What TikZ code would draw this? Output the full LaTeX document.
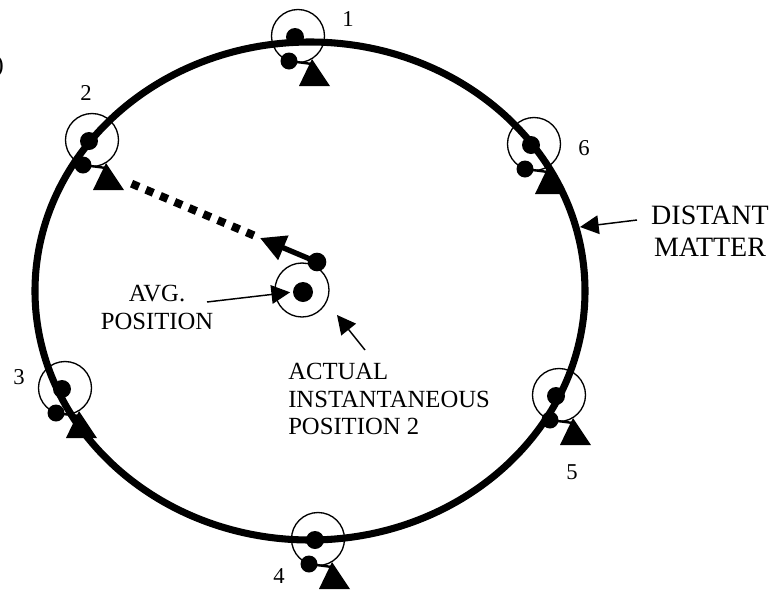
\documentclass[tikz,border=0pt]{standalone}
\usepackage{fontspec}
\setmainfont{Liberation Serif}
\usetikzlibrary{arrows.meta,calc}

\begin{document}
\begin{tikzpicture}[x=0.75pt,y=-0.75pt,
    orbit/.style={line width=5.3pt},
    ring/.style={line width=1pt},
    dot/.style={circle,fill,inner sep=0pt,minimum size=13.5pt},
    pointer/.style={line width=1.1pt,-{Triangle[length=14pt,width=14pt]}},
    numlbl/.style={font=\fontsize{17}{20}\selectfont,inner sep=0pt},
    txtlbl/.style={font=\fontsize{18.5}{20.6}\selectfont,inner sep=0pt},
    biglbl/.style={font=\fontsize{21}{24}\selectfont,inner sep=0pt,align=center}]
  \useasboundingbox (0,0) rectangle (776,590);
  % Distant matter
  \draw[orbit] (310,291) ellipse [x radius=275, y radius=249];
  % Define the six positions on the orbit
  \coordinate (s1) at (298,36);
  \coordinate (s2) at (92,140);
  \coordinate (s3) at (65,388);
  \coordinate (s4) at (318,539);
  \coordinate (s5) at (559,395);
  \coordinate (s6) at (534,144);
  % Draw each position with its small circle
  \foreach \s in {s1,s2,s3,s4,s5,s6}{
    \begin{scope}[shift={(\s)}]
      \draw[ring] (0,0) circle (26.5);
      \fill (-3,1) circle (9);
      \fill (-9,25) circle (8.5);
      \draw[line width=1.8pt] (-9,25) -- (14,28);
      \fill (14,23) -- (1,50) -- (32,50) -- cycle;
    \end{scope}
  }
  % Position numbers
  \node[numlbl] (n1) at (348,19) {1};
  \node[numlbl] (n2) at (86,93) {2};
  \node[numlbl] (n3) at (19,377) {3};
  \node[numlbl] (n4) at (279,576) {4};
  \node[numlbl] (n5) at (572,472) {5};
  \node[numlbl] (n6) at (584,148) {6};
  % Average and actual position at the centre
  \coordinate (c) at (302,290);
  \draw[ring] (c) circle (27);
  \node[dot,minimum size=15pt] (avgdot) at (303,292) {};
  \node[dot,minimum size=14pt] (actdot) at (317,262) {};
  \coordinate (tip) at (260,238);
  \coordinate (s2tri) at (130,183);
  \draw[line width=4pt,-{Triangle[length=19pt,width=19pt]}] (actdot.center) -- (tip);
  \draw[line width=6pt,dash pattern=on 6pt off 5.7pt] ($(tip)!5pt!(s2tri)$) -- (s2tri);
  % Labels with pointers
  \node[txtlbl,align=center,anchor=north] (avglbl) at (157,285) {AVG.\\POSITION};
  \coordinate (avgtail) at (207,302);
  \draw[pointer,shorten >=2pt] (avgtail) -- (avgdot.west);
  \node[txtlbl,align=left,anchor=north west] (actlbl) at (288,363) {ACTUAL\\INSTANTANEOUS\\POSITION 2};
  \coordinate (acttail) at (365,350);
  \coordinate (acttip) at (337,315);
  \draw[pointer] (acttail) -- (acttip);
  \node[biglbl,anchor=north] (distlbl) at (710,206) {DISTANT\\MATTER};
  \coordinate (disttail) at (637,220);
  \coordinate (orbitpt) at (580,227);
  \draw[pointer] (disttail) -- (orbitpt);
  \node[txtlbl,anchor=east] (paren) at (4,67) {)};
\end{tikzpicture}
\end{document}
